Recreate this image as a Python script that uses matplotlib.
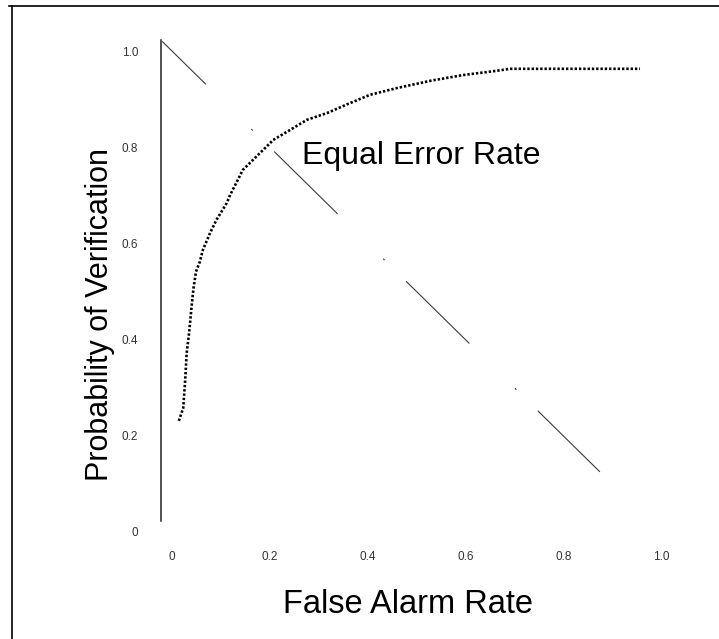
import matplotlib
matplotlib.use("Agg")
import matplotlib.pyplot as plt
from matplotlib.lines import Line2D

plt.rcParams["font.family"] = ["Liberation Sans", "DejaVu Sans"]
plt.rcParams["lines.scale_dashes"] = False

# ROC curve: false alarm rate vs probability of verification
far = [0.014, 0.023, 0.027, 0.030, 0.035, 0.040, 0.044, 0.049, 0.057, 0.063,
       0.078, 0.091, 0.112, 0.119, 0.145, 0.180, 0.207, 0.235, 0.276, 0.317,
       0.360, 0.405, 0.460, 0.528, 0.595, 0.665, 0.691, 0.800, 0.957]
pv = [0.231, 0.258, 0.316, 0.372, 0.414, 0.468, 0.507, 0.541, 0.562, 0.586,
      0.622, 0.649, 0.684, 0.701, 0.753, 0.788, 0.815, 0.832, 0.857, 0.871,
      0.890, 0.909, 0.923, 0.938, 0.950, 0.959, 0.963, 0.963, 0.963]

# Equal-error diagonal (PV = 1 - FAR)
diag_x = [-0.02, 0.875]
diag_y = [1.02, 0.125]

xticks = [0.0, 0.2, 0.4, 0.6, 0.8, 1.0]
xticklabels = ["0", "0.2", "0.4", "0.6", "0.8", "1.0"]
yticks = [0.0, 0.2, 0.4, 0.6, 0.8, 1.0]
yticklabels = ["0", "0.2", "0.4", "0.6", "0.8", "1.0"]

W, H = 719, 639
fig = plt.figure(figsize=(W / 100, H / 100), dpi=100)
fig.patch.set_facecolor("white")

# outer frame lines (top and left)
fig.add_artist(Line2D([9 / W, 1.0], [1 - 6 / H, 1 - 6 / H], transform=fig.transFigure,
                      color="black", lw=1.2))
fig.add_artist(Line2D([11.5 / W, 11.5 / W], [0.0, 1 - 6 / H], transform=fig.transFigure,
                      color="black", lw=1.2))

ax = fig.add_axes([0.2120, 0.1524, 0.7074, 0.8054])
ax.set_xlim(-0.04, 1.0)
ax.set_ylim(-0.02, 1.05)
ax.set_facecolor("white")

for s in ["top", "right", "bottom"]:
    ax.spines[s].set_visible(False)
ax.spines["left"].set_position(("data", -0.022))
ax.spines["left"].set_bounds(0.023, 1.023)
ax.spines["left"].set_linewidth(1.1)
ax.spines["left"].set_color("#222222")

ax.set_xticks(xticks)
ax.set_xticklabels(xticklabels)
ax.set_yticks(yticks)
ax.set_yticklabels(yticklabels)
ax.tick_params(axis="x", length=0, pad=6.8, labelsize=8.5, labelcolor="#333333")
ax.tick_params(axis="y", length=0, pad=16.5, labelsize=8.5, labelcolor="#333333")

# diagonal: long dash, gap, dot, gap
ax.plot(diag_x, diag_y, color="#3a3a3a", lw=0.8,
        linestyle=(20, (64, 46, 1.5, 21.6)), solid_capstyle="butt",
        dash_capstyle="butt")

# ROC curve drawn as square dots
ax.plot(far, pv, color="black", lw=1.9, linestyle=(0, (1.7, 1.4)),
        dash_capstyle="butt")

ax.text(0.265, 0.765, "Equal Error Rate", fontsize=23, ha="left",
        va="baseline", color="black")

ax.set_xlabel("False Alarm Rate", fontsize=23.5)
ax.xaxis.label.set_verticalalignment("center")
ax.xaxis.set_label_coords(0.5026, -0.123)
ax.set_ylabel("Probability of Verification", fontsize=22)
ax.yaxis.label.set_verticalalignment("center")
ax.yaxis.label.set_horizontalalignment("center")
ax.yaxis.set_label_coords(-0.103, 0.442)

fig.savefig("out.png", dpi=100, facecolor="white")
